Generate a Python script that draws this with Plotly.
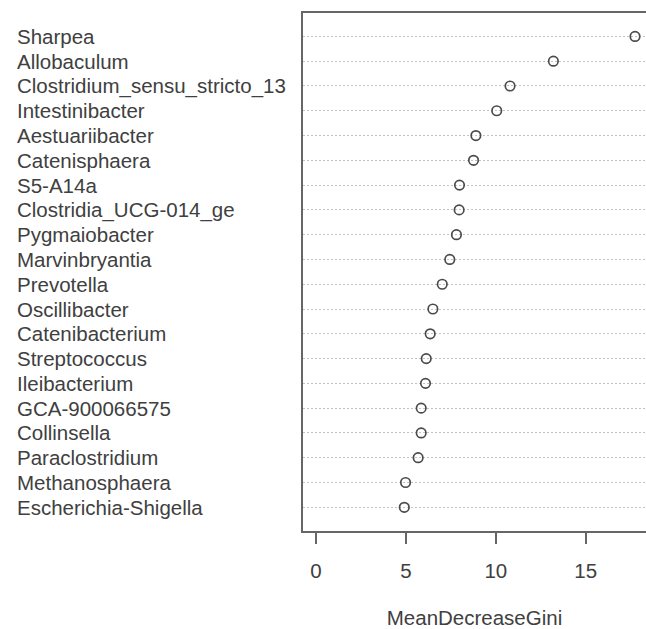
import plotly.graph_objects as go

genera = ["Sharpea", "Allobaculum", "Clostridium_sensu_stricto_13", "Intestinibacter",
          "Aestuariibacter", "Catenisphaera", "S5-A14a", "Clostridia_UCG-014_ge",
          "Pygmaiobacter", "Marvinbryantia", "Prevotella", "Oscillibacter",
          "Catenibacterium", "Streptococcus", "Ileibacterium", "GCA-900066575",
          "Collinsella", "Paraclostridium", "Methanosphaera", "Escherichia-Shigella"]
gini = [17.74, 13.20, 10.79, 10.05, 8.89, 8.76, 7.98, 7.96, 7.81, 7.44, 7.02, 6.50,
        6.35, 6.13, 6.09, 5.85, 5.85, 5.68, 4.98, 4.91]
x_ticks = [0, 5, 10, 15]

FONT = "Liberation Sans, Arial, sans-serif"
TXT = "#404040"
FS = 20.5
W, H = 646, 629
L, R, T, B = 303, 0, 13, 98
pw = W - L - R

fig = go.Figure()
fig.add_trace(go.Scatter(
    x=gini, y=genera, mode="markers",
    marker=dict(symbol="circle-open", size=9.5, color="#4a4a4a", line=dict(width=1.7)),
    hoverinfo="x+y", showlegend=False))

for g in genera:
    fig.add_annotation(x=(15 - L) / pw, xref="paper", y=g, yref="y", text=g,
                       showarrow=False, xanchor="left", yanchor="middle",
                       font=dict(family=FONT, size=FS, color=TXT))

fig.update_layout(
    width=W, height=H, margin=dict(l=L, r=R, t=T, b=B, pad=0),
    paper_bgcolor="white", plot_bgcolor="white",
    font=dict(family=FONT, size=FS, color=TXT),
    xaxis=dict(range=[-0.722, 18.35], tickvals=x_ticks, ticks="outside", ticklen=11,
               tickwidth=1.6, tickcolor="#666", showgrid=False, zeroline=False,
               showline=True, linecolor="#666", linewidth=1.5, mirror=True,
               ticklabelstandoff=10,
               tickfont=dict(family=FONT, size=FS, color=TXT),
               title=dict(text="MeanDecreaseGini", standoff=33,
                          font=dict(family=FONT, size=FS, color=TXT))),
    yaxis=dict(categoryorder="array", categoryarray=genera[::-1],
               range=[-0.957, 19.945], showticklabels=False, ticks="",
               showgrid=True, gridcolor="#c2c2c2", gridwidth=1, griddash="1.5px,2.5px",
               zeroline=False, showline=True, linecolor="#666", linewidth=1.5),
)

fig.write_html("out.html")
